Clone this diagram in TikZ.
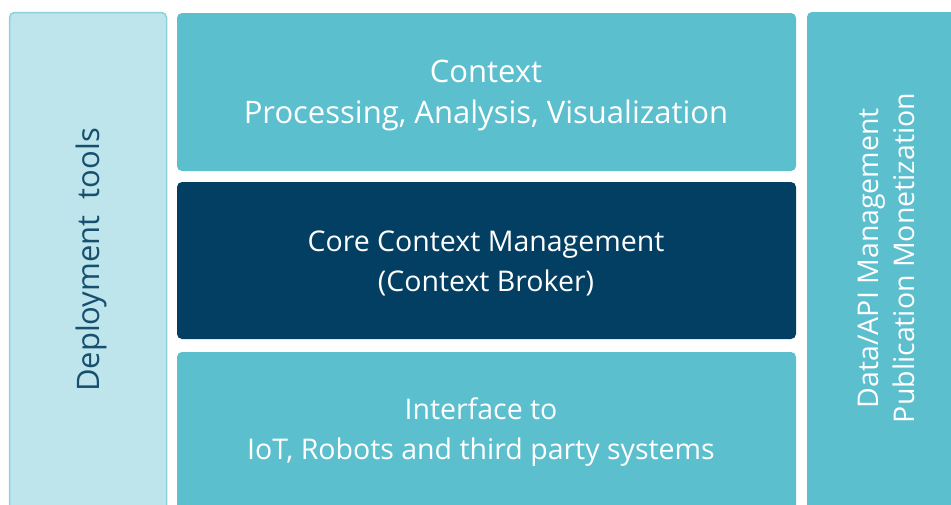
\documentclass[tikz,border=0pt]{standalone}
\usepackage{fontspec}
\setmainfont{Open Sans}
\usetikzlibrary{positioning}

\definecolor{toolfill}{HTML}{BEE5EC}
\definecolor{tooledge}{HTML}{8ED0DC}
\definecolor{layerfill}{HTML}{5BBFCE}
\definecolor{corefill}{HTML}{023F62}
\definecolor{tooltext}{HTML}{17506F}

\tikzset{
  layer/.style={fill=layerfill, draw=none, rounded corners=5pt},
  label/.style={text=white, align=center, font=\fontsize{28.5}{40}\selectfont},
}

\begin{document}
\begin{tikzpicture}[x=1pt, y=-1pt]
                \useasboundingbox (0,0) rectangle (951,504);
                \clip (0,0) rectangle (951,504);

                % Deployment tools
                \draw[fill=toolfill, draw=tooledge, line width=1.5pt, rounded corners=5pt] (9.5,12.5) rectangle (166.5,530);
                \node[label, text=tooltext, rotate=90, font=\fontsize{31}{40}\selectfont] (deploy) at (91,260) {Deployment\ \ tools};

                % Upper layer
                \draw[layer] (177,13) rectangle (796,171);
                \node[label, font=\fontsize{31}{41}\selectfont] (context) at (486,95) {Context\\Processing, Analysis, Visualization};

                % Core layer
                \draw[layer, fill=corefill] (177,182) rectangle (796,339);
                \node[label] (core) at (486,263) {Core Context Management\\(Context Broker)};

                % Lower layer
                \draw[layer] (177,352) rectangle (796,530);
                \node[label] (iface) at (481,432) {Interface to\\IoT, Robots and third party systems};

                % Data/API management
                \draw[layer] (807,12) rectangle (970,530);
                \node[label, rotate=90, font=\fontsize{28.5}{36}\selectfont] (dataapi) at (886,258) {Data/API Management\\Publication Monetization};
\end{tikzpicture}
\end{document}
